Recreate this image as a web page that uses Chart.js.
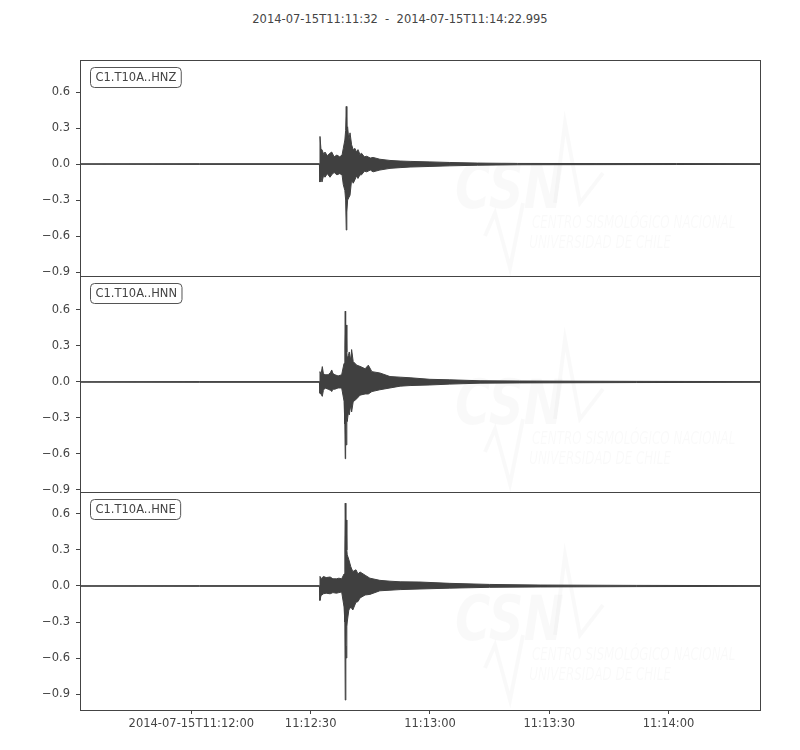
<!DOCTYPE html>
<html>
<head>
<meta charset="utf-8">
<script src="https://cdn.jsdelivr.net/npm/chart.js@4"></script>
<style>
  body { margin: 0; background: #fff; }
  #wrap { position: relative; width: 800px; height: 750px; }
  #wrap canvas { position: absolute; left: 0; top: 0; }
  #title { position: absolute; left: 0; top: 12px; width: 800px; text-align: center;
           font: 11.5px "DejaVu Sans"; color: #444; white-space: pre; }
</style>
</head>
<body>
<div id="wrap">
  <div id="title">2014-07-15T11:11:32  -  2014-07-15T11:14:22.995</div>
  <canvas id="c0" width="800" height="750"></canvas>
  <canvas id="c1" width="800" height="750"></canvas>
  <canvas id="c2" width="800" height="750"></canvas>
</div>
<script>
// seconds after 2014-07-15T11:11:32
const startSec = 0
const endSec = 170.995
const xTickSeconds = [28, 58, 88, 118, 148]
const xTickLabels = ['2014-07-15T11:12:00', '11:12:30', '11:13:00', '11:13:30', '11:14:00']
const yTicks = [-0.9, -0.6, -0.3, 0.0, 0.3, 0.6]

const channels = ['C1.T10A..HNZ', 'C1.T10A..HNN', 'C1.T10A..HNE']

// trace envelope: time (s), max, min
const hnzTime  = [0, 30, 60.2, 60.35, 60.6, 60.85, 61.3, 61.6, 62.2, 62.87, 63.3, 63.9, 64.6, 65.3, 65.9, 66.2, 66.6, 66.8, 66.95, 67.1, 67.3, 67.6, 67.9, 68.3, 68.7, 69.15, 69.5, 69.9, 70.4, 70.8, 71.5, 72.1, 73, 73.7, 75.4, 77.95, 80.5, 83, 88, 93, 100, 110, 130, 150, 171]
const hnzUpper = [0.002, 0.003, 0.003, 0.23, 0.12, 0.12, 0.08, 0.1, 0.07, 0.09, 0.1, 0.06, 0.075, 0.06, 0.075, 0.13, 0.2, 0.28, 0.48, 0.3, 0.31, 0.2, 0.26, 0.16, 0.12, 0.13, 0.1, 0.12, 0.08, 0.09, 0.06, 0.065, 0.05, 0.055, 0.04, 0.03, 0.025, 0.022, 0.018, 0.013, 0.008, 0.005, 0.004, 0.004, 0.003]
const hnzLower = [-0.002, -0.003, -0.003, -0.15, -0.1, -0.15, -0.09, -0.11, -0.08, -0.11, -0.09, -0.07, -0.09, -0.08, -0.09, -0.17, -0.22, -0.3, -0.55, -0.4, -0.3, -0.28, -0.26, -0.13, -0.16, -0.13, -0.1, -0.12, -0.09, -0.09, -0.06, -0.065, -0.05, -0.065, -0.05, -0.036, -0.03, -0.025, -0.02, -0.015, -0.01, -0.006, -0.005, -0.004, -0.003]

const hnnTime  = [0, 30, 60.2, 60.35, 60.6, 60.93, 61.2, 61.6, 62.4, 63.0, 63.3, 63.6, 64.1, 64.9, 65.8, 66.4, 66.6, 66.7, 66.8, 66.95, 67.1, 67.2, 67.5, 67.7, 68.1, 68.3, 68.7, 69.6, 70.4, 71.7, 72.5, 73.4, 75.4, 77.95, 80.5, 83, 88, 93, 100.6, 110.6, 140, 171]
const hnnUpper = [0.002, 0.003, 0.003, 0.086, 0.06, 0.128, 0.07, 0.06, 0.06, 0.08, 0.1, 0.07, 0.06, 0.05, 0.06, 0.155, 0.3, 0.59, 0.3, 0.475, 0.25, 0.2, 0.22, 0.25, 0.18, 0.27, 0.17, 0.14, 0.13, 0.11, 0.14, 0.086, 0.075, 0.045, 0.04, 0.035, 0.022, 0.018, 0.01, 0.008, 0.005, 0.003]
const hnnLower = [-0.002, -0.003, -0.003, -0.094, -0.1, -0.12, -0.07, -0.05, -0.06, -0.07, -0.08, -0.06, -0.06, -0.05, -0.05, -0.16, -0.35, -0.64, -0.4, -0.525, -0.3, -0.33, -0.25, -0.275, -0.19, -0.25, -0.165, -0.14, -0.11, -0.1, -0.1, -0.08, -0.065, -0.05, -0.035, -0.03, -0.025, -0.018, -0.01, -0.008, -0.005, -0.003]

const hneTime  = [0, 30, 60.2, 60.35, 60.6, 61.2, 61.9, 62.9, 63.6, 64.5, 65.1, 65.8, 66.4, 66.6, 66.7, 66.85, 66.95, 67.1, 67.2, 67.6, 68.1, 68.6, 69.4, 69.9, 70.4, 71.7, 72.9, 75.4, 77.95, 80.5, 85.5, 93, 103, 115.7, 140, 171]
const hneUpper = [0.002, 0.003, 0.003, 0.08, 0.06, 0.08, 0.07, 0.075, 0.06, 0.06, 0.065, 0.06, 0.1, 0.3, 0.69, 0.4, 0.55, 0.3, 0.26, 0.22, 0.16, 0.12, 0.135, 0.1, 0.117, 0.09, 0.065, 0.047, 0.04, 0.035, 0.033, 0.022, 0.013, 0.008, 0.005, 0.003]
const hneLower = [-0.002, -0.003, -0.003, -0.12, -0.08, -0.065, -0.06, -0.065, -0.055, -0.06, -0.055, -0.05, -0.175, -0.3, -0.95, -0.5, -0.6, -0.34, -0.3, -0.2, -0.175, -0.2, -0.135, -0.13, -0.1, -0.075, -0.07, -0.04, -0.035, -0.03, -0.025, -0.018, -0.011, -0.008, -0.005, -0.003]

const yRanges = [[-0.933, 0.867], [-0.917, 0.883], [-1.033, 0.783]]
const panelTops = [60, 276, 492]
const panelBottoms = [276, 492, 710]

const traces = [
  [hnzTime, hnzUpper, hnzLower],
  [hnnTime, hnnUpper, hnnLower],
  [hneTime, hneUpper, hneLower]
]

const textColor = '#444'
const traceColor = '#404040'
const fontFam = 'DejaVu Sans'

// frame, station label and faint logo
const panelDeco = {
  id: 'panelDeco',
  beforeDatasetsDraw(chart, args, opts) {
    const c = chart.ctx, a = chart.chartArea
    c.save()
    c.beginPath(); c.rect(a.left, a.top, a.right - a.left, a.bottom - a.top); c.clip()
    c.fillStyle = 'rgba(0,0,0,0.025)'
    c.strokeStyle = 'rgba(0,0,0,0.025)'
    c.lineWidth = 4
    const bx = 455, by = a.top + 148
    c.save()
    c.translate(bx, by); c.scale(0.78, 1)
    c.font = 'italic bold 62px "' + fontFam + '"'
    c.fillText('CSN', 0, 0)
    c.restore()
    c.beginPath()
    c.moveTo(bx + 100, by - 5); c.lineTo(bx + 110, by - 85); c.lineTo(bx + 125, by - 5); c.lineTo(bx + 148, by - 35)
    c.stroke()
    c.beginPath()
    c.moveTo(bx + 30, by + 28); c.lineTo(bx + 40, by + 5); c.lineTo(bx + 55, by + 60); c.lineTo(bx + 68, by - 5)
    c.stroke()
    c.save()
    c.translate(bx + 77, by + 20); c.scale(0.7, 1)
    c.font = 'italic 17px "' + fontFam + '"'
    c.fillText('CENTRO SISMOLÓGICO NACIONAL', 0, 0)
    c.fillText('UNIVERSIDAD DE CHILE', -4, 20)
    c.restore()
    c.restore()
  },
  afterDraw(chart, args, opts) {
    const c = chart.ctx, a = chart.chartArea
    c.save()
    c.strokeStyle = textColor; c.lineWidth = 1
    c.strokeRect(Math.round(a.left) + 0.5, Math.round(a.top) + 0.5, Math.round(a.right - a.left), Math.round(a.bottom - a.top))
    // station label box
    c.font = '11.5px "' + fontFam + '"'
    const w = c.measureText(opts.label).width
    const x0 = a.left + 10.5, y0 = a.top + 7.5, bw = w + 10, bh = 20
    c.beginPath()
    c.roundRect(x0, y0, bw, bh, 4)
    c.fillStyle = '#fff'; c.fill()
    c.strokeStyle = '#555'; c.stroke()
    c.fillStyle = textColor
    c.textBaseline = 'middle'
    c.fillText(opts.label, x0 + 5, y0 + bh / 2 + 0.5)
    c.restore()
  }
}

function makeChart(i) {
  const [tt, up, lo] = traces[i]
  const upper = tt.map((t, k) => ({ x: t, y: up[k] }))
  const lower = tt.map((t, k) => ({ x: t, y: lo[k] }))
  const last = i === 2
  return new Chart(document.getElementById('c' + i), {
    type: 'line',
    data: {
      datasets: [
        { data: upper, borderColor: traceColor, backgroundColor: traceColor, borderWidth: 1,
          pointRadius: 0, tension: 0, fill: '+1' },
        { data: lower, borderColor: traceColor, backgroundColor: traceColor, borderWidth: 1,
          pointRadius: 0, tension: 0, fill: false }
      ]
    },
    options: {
      responsive: false,
      animation: false,
      devicePixelRatio: 1,
      layout: { padding: { left: 0, right: 40, top: panelTops[i], bottom: last ? 0 : 750 - panelBottoms[i] } },
      plugins: {
        legend: { display: false },
        tooltip: { enabled: false },
        panelDeco: { label: channels[i] }
      },
      scales: {
        x: {
          type: 'linear',
          display: last,
          min: startSec,
          max: endSec,
          afterBuildTicks: s => { s.ticks = xTickSeconds.map(v => ({ value: v })) },
          afterFit: s => { s.height = last ? 40 : 0 },
          ticks: {
            color: textColor,
            font: { family: fontFam, size: 11.5 },
            padding: 3,
            maxRotation: 0,
            autoSkip: false,
            callback: (v) => xTickLabels[xTickSeconds.indexOf(v)]
          },
          grid: { drawOnChartArea: false, color: textColor, tickLength: 4 },
          border: { display: false }
        },
        y: {
          min: yRanges[i][0],
          max: yRanges[i][1],
          afterBuildTicks: s => { s.ticks = yTicks.map(v => ({ value: v })) },
          afterFit: s => { s.width = 80 },
          ticks: {
            color: textColor,
            font: { family: fontFam, size: 11.5 },
            padding: 6,
            callback: (v) => v.toFixed(1).replace('-', '\u2212')
          },
          grid: { drawOnChartArea: false, color: textColor, tickLength: 4 },
          border: { display: false }
        }
      }
    },
    plugins: [panelDeco]
  })
}

for (let i = 0; i < 3; i++) {
  makeChart(i)
}
</script>
</body>
</html>
